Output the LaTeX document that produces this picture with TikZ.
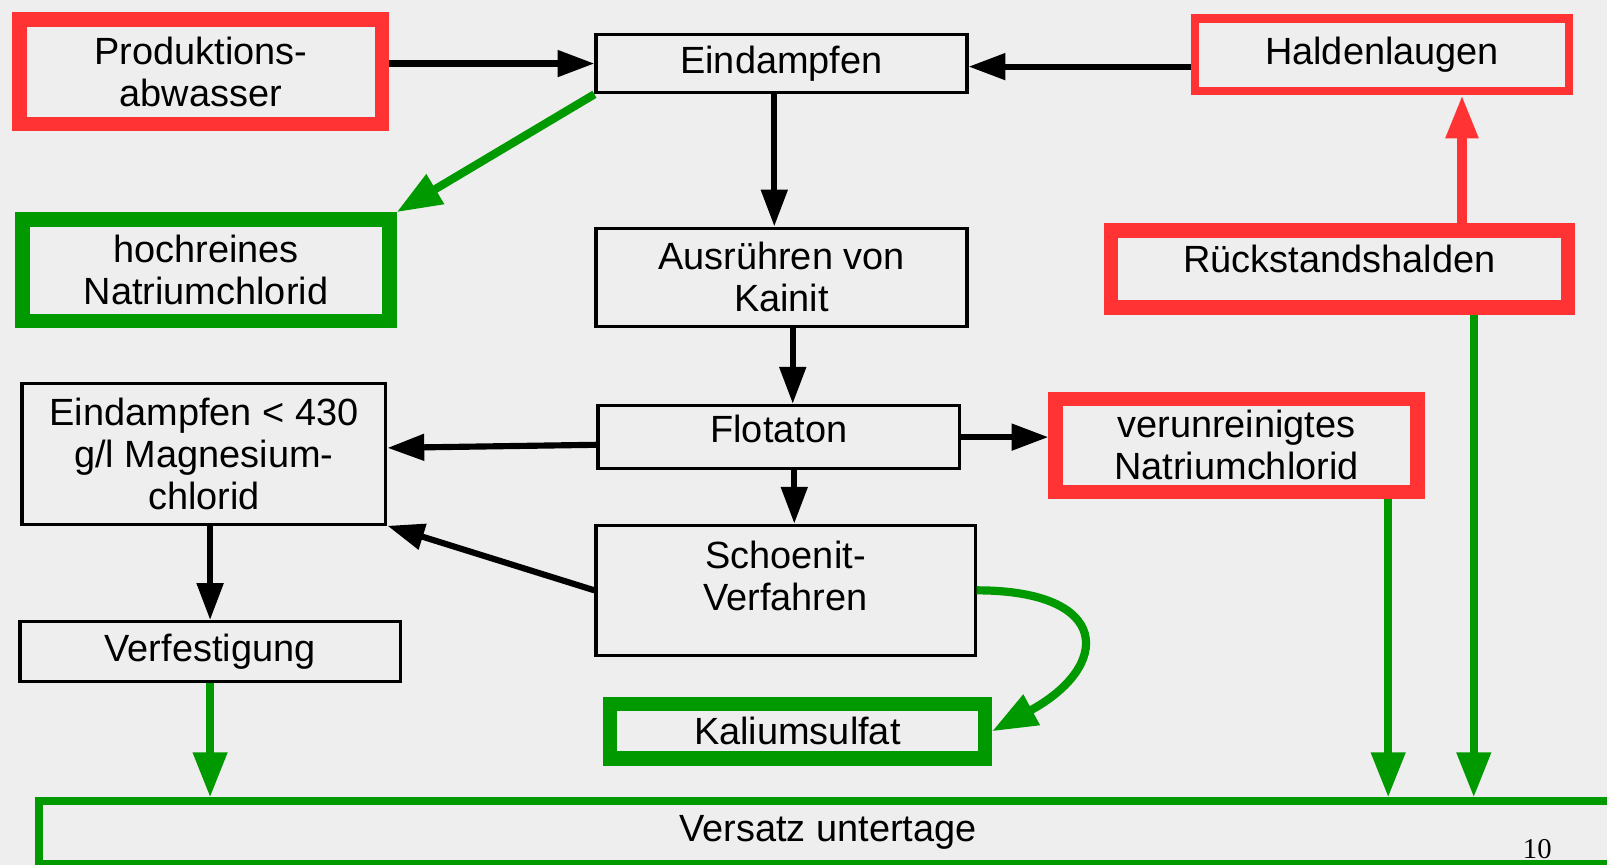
\documentclass[tikz,border=0pt]{standalone}
\usepackage{fontspec}
\setmainfont{Liberation Sans}
\newfontfamily\pagenumfont{Liberation Serif}
\usepackage{tikz}
\usetikzlibrary{arrows.meta}
\definecolor{boxred}{RGB}{255,51,51}
\definecolor{boxgreen}{RGB}{0,153,0}
\definecolor{slidegray}{RGB}{238,238,238}
\tikzstyle{flowbox} = [rectangle, inner sep=0pt, align=center,
    font=\fontsize{37}{41}\selectfont]
\tikzstyle{blackbox} = [flowbox, draw=black, line width=3pt]
\tikzstyle{redbox} = [flowbox, draw=boxred, line width=14pt]
\tikzstyle{greenbox} = [flowbox, draw=boxgreen, line width=14pt]
\tikzstyle{blackarrow} = [draw=black, line width=6pt, -{Triangle[length=36pt,width=25pt]}]
\tikzstyle{greenarrow} = [draw=boxgreen, line width=8pt, -{Triangle[length=44pt,width=32pt]}]
\tikzstyle{redarrow} = [draw=boxred, line width=9pt, -{Triangle[length=42pt,width=30pt]}]

\begin{document}
\begin{tikzpicture}[x=1pt,y=-1pt]
                \useasboundingbox (0,0) rectangle (1568,844);
                \fill[slidegray] (0,0) rectangle (1568,844);
                % top row
                \node [redbox, minimum width=354pt, minimum height=102pt] (prod) at (196,70) {Produktions-\\abwasser};
                \node [blackbox, minimum width=362pt, minimum height=57pt] (eind) at (762.5,62) {Eindampfen};
                \node [redbox, line width=8pt, minimum width=365pt, minimum height=71pt] (hald) at (1348.5,53.5) {Haldenlaugen};
                % second row
                \node [greenbox, minimum width=358pt, minimum height=99pt] (hoch) at (201,263.5) {hochreines\\Natriumchlorid};
                \node [blackbox, minimum width=362pt, minimum height=96pt] (ausr) at (762.5,270.5) {Ausr\"uhren von\\Kainit};
                \node [redbox, minimum width=446pt, minimum height=75pt, text depth=20pt] (rueck) at (1307,262.5) {R\"uckstandshalden};
                % third row
                \node [blackbox, minimum width=355pt, minimum height=137pt] (magn) at (199,443) {Eindampfen < 430\\g/l Magnesium-\\chlorid};
                \node [blackbox, minimum width=353pt, minimum height=62pt, text depth=16pt] (flot) at (760,426.5) {Flotaton};
                \node [redbox, minimum width=353pt, minimum height=91pt] (veru) at (1206.5,434.5) {verunreinigtes\\Natriumchlorid};
                % lower rows
                \node [blackbox, minimum width=370pt, minimum height=127pt, text depth=28pt] (schoen) at (766.5,576) {Schoenit-\\Verfahren};
                \node [blackbox, minimum width=371pt, minimum height=58pt] (verf) at (205,635.5) {Verfestigung};
                \node [greenbox, minimum width=366pt, minimum height=53pt] (kal) at (778,713.5) {Kaliumsulfat};
                \node [greenbox, line width=7pt, minimum width=1540pt, minimum height=61pt] (vers) at (808,812) {Versatz untertage};
                \node [font=\pagenumfont\fontsize{28}{30}\selectfont] (pnum) at (1500,828) {10};

                % black flows
                \draw [blackarrow] (prod.east |- eind.west) -- (eind.west);
                \draw [blackarrow] ([yshift=-3pt]hald.west |- eind.east) -- ([yshift=-3pt]eind.east);
                \draw [blackarrow] ([xshift=-7pt]eind.south) -- ([xshift=-7pt]ausr.north);
                \draw [blackarrow] ([xshift=11pt]ausr.south) -- ([xshift=11pt]ausr.south |- flot.north);
                \draw [blackarrow] ([yshift=-7.5pt]flot.west) -- ([yshift=6pt]magn.east);
                \draw [blackarrow] (flot.east) -- (flot.east -| veru.west);
                \draw [blackarrow] ([xshift=15pt]flot.south) -- ([xshift=15pt]flot.south |- schoen.north);
                \draw [blackarrow] (schoen.west) -- (magn.south east);
                \draw [blackarrow] (verf.north |- magn.south) -- (verf.north);
                % red flow
                \draw [redarrow] ([xshift=78pt]hald.south |- rueck.north) -- ([xshift=78pt]hald.south);
                % green flows
                \draw [greenarrow] (eind.south west) -- (hoch.north east);
                \draw [greenarrow] (schoen.east) .. controls (1085,576) and (1085,650) .. (kal.east);
                \draw [greenarrow] (verf.south) -- (verf.south |- vers.north);
                \draw [greenarrow] ([xshift=148pt]veru.south) -- ([xshift=148pt]veru.south |- vers.north);
                \draw [greenarrow] ([xshift=131pt]rueck.south) -- ([xshift=131pt]rueck.south |- vers.north);
            \end{tikzpicture}
\end{document}
